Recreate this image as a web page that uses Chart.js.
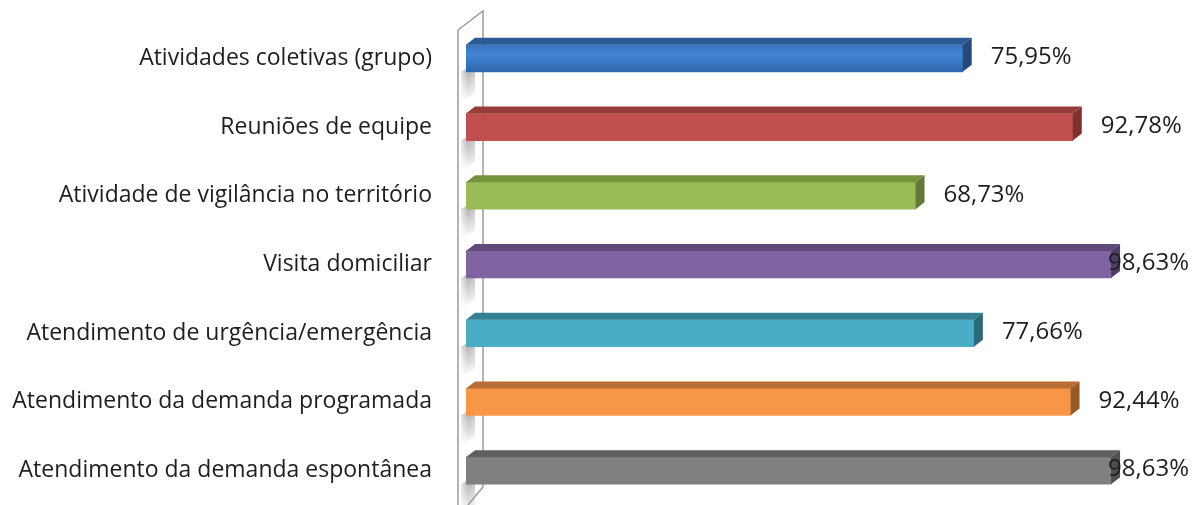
<!DOCTYPE html>
<html>
<head>
<meta charset="utf-8">
<script src="https://cdn.jsdelivr.net/npm/chart.js@4/dist/chart.umd.min.js"></script>
<style>
  html, body { margin: 0; padding: 0; background: #fff; }
  #wrap { width: 1192px; height: 505px; position: relative; }
</style>
</head>
<body>
<div id="wrap"><canvas id="myChart"></canvas></div>
<script>
var categories = [
  'Atividades coletivas (grupo)',
  'Reuniões de equipe',
  'Atividade de vigilância no território',
  'Visita domiciliar',
  'Atendimento de urgência/emergência',
  'Atendimento da demanda programada',
  'Atendimento da demanda espontânea'
];
var percentages = [75.95, 92.78, 68.73, 98.63, 77.66, 92.44, 98.63];

// front, top and side colours of each 3D bar
var frontColors = ['#3d7cc9', '#c0504d', '#9bbb59', '#8064a2', '#4bacc6', '#f79646', '#808080'];
var topColors   = ['#2c5b94', '#963c3a', '#76923c', '#5f4a7b', '#357f94', '#b86e32', '#5f5f5f'];
var sideColors  = ['#24497a', '#7e302e', '#62793a', '#4e3d66', '#2b6a7b', '#9a5a28', '#4f4f4f'];

var DX = 9, DY = 7;
var VALUE_FONT = '24px "Open Sans", sans-serif';

function fmt(v) {
  return v.toFixed(2).replace('.', ',') + '%';
}

// grey side wall with the bar shadows falling on it
var wallPlugin = {
  id: 'wall',
  beforeDatasetsDraw: function(chart) {
    var c = chart.ctx, a = chart.chartArea;
    var x0 = a.left - 8, x1 = a.left + 17;
    c.save();
    c.beginPath();
    c.moveTo(x0, 30);
    c.lineTo(x1, 11);
    c.lineTo(x1, 487);
    c.lineTo(x0 + 10, 505);
    c.lineTo(x0, 505);
    c.closePath();
    c.fillStyle = '#ffffff';
    c.fill();
    var meta = chart.getDatasetMeta(0);
    meta.data.forEach(function(bar) {
      var b = bar.y + bar.height / 2;
      var g = c.createLinearGradient(0, b, 0, b + 30);
      g.addColorStop(0, 'rgba(110,110,110,0.5)');
      g.addColorStop(1, 'rgba(110,110,110,0)');
      c.fillStyle = g;
      c.beginPath();
      c.moveTo(x0 + 3, b);
      c.lineTo(x0 + 17, b - 9);
      c.lineTo(x0 + 17, b + 21);
      c.lineTo(x0 + 3, b + 30);
      c.closePath();
      c.fill();
      var h = c.createLinearGradient(x0, 0, x0 + 17, 0);
      h.addColorStop(0, 'rgba(255,255,255,0.9)');
      h.addColorStop(0.6, 'rgba(255,255,255,0)');
      h.addColorStop(1, 'rgba(255,255,255,0.3)');
      c.fillStyle = h;
      c.fill();
    });
    c.beginPath();
    c.moveTo(x0, 505);
    c.lineTo(x0, 30);
    c.lineTo(x1, 11);
    c.lineTo(x1, 487);
    c.lineTo(x0 + 10, 505);
    c.strokeStyle = '#9a9a9a';
    c.lineWidth = 1.5;
    c.stroke();
    c.restore();
  }
};

// top and right faces of the bars, then the value labels
var depthPlugin = {
  id: 'depth',
  afterDatasetsDraw: function(chart) {
    var c = chart.ctx;
    var meta = chart.getDatasetMeta(0);
    c.save();
    meta.data.forEach(function(bar, i) {
      var top = bar.y - bar.height / 2, bot = bar.y + bar.height / 2;
      var x = bar.x, base = bar.base;
      if (i === 0) {
        // the first bar has a glossy front
        var g = c.createLinearGradient(0, top, 0, bot);
        g.addColorStop(0, '#3a74bd');
        g.addColorStop(0.35, '#4285d6');
        g.addColorStop(1, '#2f65aa');
        c.fillStyle = g;
        c.fillRect(base, top, x - base, bot - top);
      }
      c.fillStyle = topColors[i];
      c.beginPath();
      c.moveTo(base, top);
      c.lineTo(base + DX, top - DY);
      c.lineTo(x + DX, top - DY);
      c.lineTo(x, top);
      c.closePath();
      c.fill();
      c.fillStyle = sideColors[i];
      c.beginPath();
      c.moveTo(x, top);
      c.lineTo(x + DX, top - DY);
      c.lineTo(x + DX, bot - DY);
      c.lineTo(x, bot);
      c.closePath();
      c.fill();
    });
    c.font = VALUE_FONT;
    c.fillStyle = '#1e1e1e';
    c.textBaseline = 'middle';
    c.textAlign = 'left';
    meta.data.forEach(function(bar, i) {
      var txt = fmt(percentages[i]);
      var w = c.measureText(txt).width;
      var lx = bar.x + DX + 19;
      if (lx + w > 1189) lx = 1189 - w;
      c.fillText(txt, lx, bar.y - 1);
    });
    c.restore();
  }
};

var ctx = document.getElementById('myChart').getContext('2d');
var myChart = new Chart(ctx, {
  type: 'bar',
  data: {
    labels: categories,
    datasets: [{
      data: percentages,
      backgroundColor: frontColors,
      borderWidth: 0,
      barThickness: 27
    }]
  },
  options: {
    indexAxis: 'y',
    responsive: true,
    maintainAspectRatio: false,
    animation: false,
    layout: { padding: { top: 24, right: 72, bottom: 0, left: 0 } },
    plugins: {
      legend: { display: false },
      tooltip: { enabled: false }
    },
    scales: {
      x: {
        min: 0,
        max: 100,
        display: false
      },
      y: {
        grid: { display: false, drawTicks: false },
        border: { display: false },
        ticks: {
          padding: 34,
          color: '#1e1e1e',
          font: { family: '"Open Sans", sans-serif', size: 23 }
        },
        afterFit: function(scale) {
          scale.width = 466;
          scale.paddingTop = 0;
          scale.paddingBottom = 0;
        }
      }
    }
  },
  plugins: [wallPlugin, depthPlugin]
});
</script>
</body>
</html>
